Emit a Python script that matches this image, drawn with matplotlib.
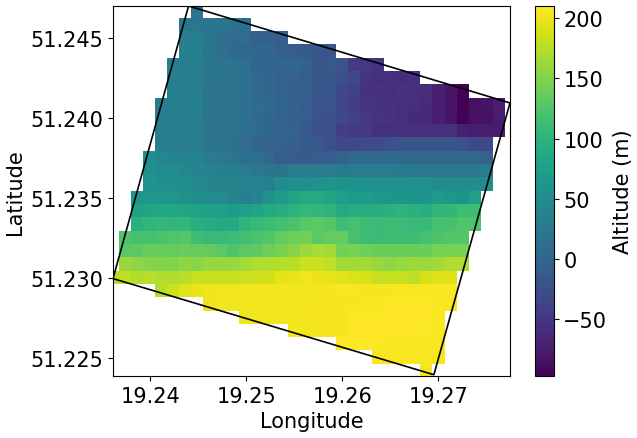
import numpy as np
import matplotlib
matplotlib.use("Agg")
import matplotlib.pyplot as plt

lon_start, lon_step, n_cols = 19.23546, 0.001256, 33
lat_start, lat_step = 51.24713, -0.000832

row_first_col = [7, 6, 6, 6, 5, 5, 5, 4, 4, 4, 4, 3, 3, 3, 2, 2, 2, 1, 1, 1, 0, 4, 8, 11, 15, 19, 22, 26]
altitude_rows = [
    [22],
    [24, 24, 24, 20, 18, 15],
    [32, 33, 24, 14, 12, 10, -2, -5, -8],
    [36, 37, 24, 14, 8, 6, 4, 3, -5, -8, -10, -14, -15],
    [34, 35, 34, 22, 21, 20, 14, 2, 2, 3, 3, 0, -15, -13, -18, -45, -47, -50],
    [34, 35, 34, 22, 21, 20, 18, 8, 3, 0, -2, -6, -14, -14, -22, -30, -50, -55, -56, -57, -56],
    [34, 35, 35, 22, 20, 20, 18, 8, 3, 0, -5, -8, -14, -16, -30, -38, -52, -53, -54, -52, -56, -58, -70, -80, -95],
    [32, 33, 35, 35, 22, 20, 20, 18, 12, 5, 2, -3, -8, -16, -20, -32, -40, -50, -52, -53, -55, -55, -60, -70, -80, -97, -83, -82, -72],
    [32, 33, 35, 35, 22, 20, 20, 18, 10, 3, 0, -5, -8, -20, -22, -30, -38, -48, -50, -52, -55, -60, -60, -70, -82, -95, -84, -84, -72],
    [32, 32, 33, 33, 22, 20, 20, 15, 10, 4, 2, -2, -10, -22, -22, -42, -45, -45, -55, -55, -55, -55, -55, -55, -55, -70, -72, -72, -72],
    [34, 32, 32, 30, 22, 20, 18, 10, 2, -2, -2, -5, -10, -12, -25, -32, -30, -28, -28, -22, -15, -15, -15, -15, -15, -25, -32, -32],
    [55, 45, 42, 40, 38, 30, 25, 22, 15, 15, 5, -6, -8, -10, -8, -6, -2, 8, 8, 8, 8, 6, 6, 5, 5, 5, 5, 5, -3],
    [60, 50, 50, 45, 42, 38, 35, 35, 30, 25, 22, 20, 32, 32, 30, 30, 28, 30, 30, 30, 30, 28, 26, 26, 26, 26, 26, 26, 30],
    [62, 55, 55, 52, 48, 42, 40, 42, 42, 38, 35, 52, 55, 52, 58, 62, 58, 58, 58, 56, 56, 56, 55, 55, 54, 54, 54, 54, 52],
    [64, 64, 64, 64, 60, 52, 52, 50, 42, 32, 40, 58, 72, 82, 90, 90, 84, 74, 70, 70, 66, 64, 62, 62, 62, 70, 64, 62, 76],
    [78, 84, 86, 86, 84, 80, 78, 74, 72, 76, 82, 88, 92, 100, 108, 104, 102, 90, 94, 94, 96, 99, 101, 99, 94, 104, 106, 113, 113],
    [98, 104, 107, 104, 105, 97, 92, 89, 89, 103, 110, 114, 118, 122, 130, 132, 128, 114, 120, 114, 112, 112, 112, 110, 110, 120, 120, 126, 124],
    [124, 120, 120, 122, 126, 129, 116, 110, 110, 112, 117, 122, 127, 137, 142, 144, 132, 137, 136, 120, 114, 112, 114, 114, 114, 120, 124, 127, 127],
    [132, 134, 140, 140, 137, 140, 137, 137, 132, 124, 132, 134, 142, 148, 154, 165, 170, 168, 145, 147, 142, 140, 140, 140, 140, 140, 147, 147, 147],
    [163, 158, 153, 153, 151, 158, 155, 163, 163, 161, 168, 173, 174, 176, 178, 185, 186, 180, 166, 168, 168, 163, 158, 161, 165, 163, 168, 173, 173],
    [176, 182, 175, 177, 173, 173, 178, 183, 184, 184, 184, 186, 188, 188, 197, 200, 204, 200, 199, 195, 193, 190, 183, 183, 183, 180, 190, 194, 194],
    [176, 186, 195, 200, 202, 203, 203, 204, 205, 205, 205, 205, 205, 206, 206, 207, 207, 206, 206, 206, 207, 207, 207, 207, 207],
    [201, 203, 204, 204, 204, 204, 205, 206, 206, 206, 206, 206, 206, 207, 207, 208, 209, 209, 209, 207, 207],
    [203, 204, 205, 205, 205, 206, 206, 206, 206, 209, 209, 209, 209, 210, 209, 208, 207],
    [205, 205, 206, 206, 206, 209, 209, 209, 209, 208, 208, 208, 207],
    [208, 208, 208, 208, 207, 207, 207, 207, 207],
    [207, 207, 207, 207, 207, 206],
    [206],
]

footprint_lon = [19.2440, 19.27744, 19.26952, 19.23614, 19.2440]
footprint_lat = [51.24703, 51.24097, 51.22398, 51.22999, 51.24703]
x_ticks = [19.24, 19.25, 19.26, 19.27]
y_ticks = [51.225, 51.230, 51.235, 51.240, 51.245]
cbar_ticks = [-50, 0, 50, 100, 150, 200]

grid = np.full((len(altitude_rows), n_cols), np.nan)
for i, (first, vals) in enumerate(zip(row_first_col, altitude_rows)):
    grid[i, first:first + len(vals)] = vals

lon_edges = lon_start + lon_step * np.arange(n_cols + 1)
lat_edges = lat_start + lat_step * np.arange(len(altitude_rows) + 1)

plt.rcParams['font.size'] = 15
fig = plt.figure(figsize=(6.37, 4.39), dpi=100)
W, H = 637, 439
ax = fig.add_axes([113 / W, 1 - 377 / H, 397 / W, 370 / H])
mesh = ax.pcolormesh(lon_edges, lat_edges, grid, cmap='viridis', vmin=-97, vmax=210, rasterized=True)
ax.plot(footprint_lon, footprint_lat, color='black', lw=1.2)
ax.set_xlim(19.23614, 19.27744)
ax.set_ylim(51.2239, 51.24703)
ax.set_xticks(x_ticks)
ax.set_xticklabels([f"{t:.2f}" for t in x_ticks])
ax.set_yticks(y_ticks)
ax.set_yticklabels([f"{t:.3f}" for t in y_ticks])
ax.set_xlabel('Longitude')
ax.set_ylabel('Latitude')

cax = fig.add_axes([535 / W, 1 - 377 / H, 18.5 / W, 370 / H])
cb = fig.colorbar(mesh, cax=cax)
cb.set_ticks(cbar_ticks)
cb.set_label('Altitude (m)')
cb.solids.set_edgecolor('face')

fig.savefig('out.png', dpi=100)
